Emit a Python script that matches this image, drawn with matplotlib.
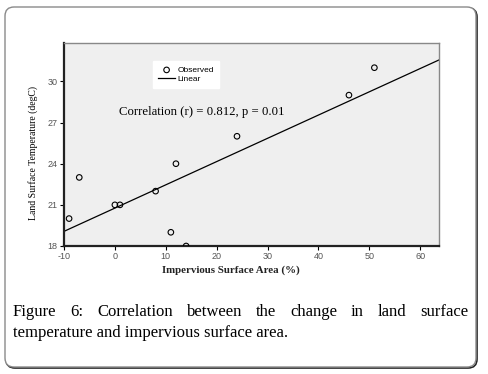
import numpy as np
import matplotlib
matplotlib.use('Agg')
from matplotlib import pyplot as plt
from matplotlib.patches import FancyBboxPatch
from matplotlib.transforms import IdentityTransform

plt.rcParams['axes.unicode_minus'] = False

# data
isa = [-9, -7, 0, 1, 8, 11, 12, 14, 24, 46, 51]
lst = [20, 23, 21, 21, 22, 19, 24, 18, 26, 29, 31]
xticks = [-10, 0, 10, 20, 30, 40, 50, 60]
yticks = [18, 21, 24, 27, 30]
note = "Correlation (r) = 0.812, p = 0.01"
caption1 = "Figure 6: Correlation between the change in land surface"
caption2 = "temperature and impervious surface area."

W, H = 488, 374
fig = plt.figure(figsize=(W / 100, H / 100), dpi=100)
fig.patch.set_facecolor('white')

# outer rounded frame (pixel coords)
shadow = FancyBboxPatch((6, 6), 471, 360, boxstyle="round,pad=0,rounding_size=9",
                        transform=IdentityTransform(), fc='none', ec='#222222',
                        lw=1.2, zorder=-3)
frame = FancyBboxPatch((5, 7), 471, 360, boxstyle="round,pad=0,rounding_size=9",
                       transform=IdentityTransform(), fc='white', ec='#8a8a8a',
                       lw=1.0, zorder=-2)
fig.patches.extend([shadow, frame])

ax = fig.add_axes([64 / W, 1 - 246 / H, 375 / W, 203 / H])
ax.set_facecolor('#efefef')
ax.set_xlim(-10, 63.7)
ax.set_ylim(18, 32.8)

# linear fit
k, b = np.polyfit(isa, lst, 1)
lx = np.array(ax.get_xlim())
ax.plot(lx, k * lx + b, color='black', lw=0.9, label='Linear', zorder=2)
ax.scatter(isa, lst, s=16, facecolors='none', edgecolors='black', linewidths=0.8,
           label='Observed', zorder=3)

for s in ['left', 'bottom']:
    ax.spines[s].set_linewidth(1.6)
    ax.spines[s].set_color('#222222')
for s in ['top', 'right']:
    ax.spines[s].set_linewidth(1.0)
    ax.spines[s].set_color('#888888')

ax.set_xticks(xticks)
ax.set_yticks(yticks)
ax.tick_params(length=3, width=0.8, labelsize=6.5, labelcolor='#555555', pad=1.5,
               direction='out')
for t in ax.get_xticklabels() + ax.get_yticklabels():
    t.set_family('Liberation Sans')

ax.text(0.8, 27.77, note, family='Liberation Serif', fontsize=9.2, va='center',
        ha='left')

handles, labels = ax.get_legend_handles_labels()
leg = ax.legend(handles[::-1], labels[::-1], loc='upper left',
                bbox_to_anchor=(0.238, 0.91), frameon=True, fancybox=False,
                prop={'family': 'Liberation Sans', 'size': 6},
                handlelength=2.0, handletextpad=0.3, labelspacing=0.1,
                borderpad=0.6, borderaxespad=0)
leg.get_frame().set_facecolor('white')
leg.get_frame().set_edgecolor('white')
leg.get_frame().set_alpha(1)

fig.text(33 / W, 1 - 153 / H, "Land Surface Temperature (degC)", rotation=90,
         family='Liberation Serif', fontsize=7.0, ha='center', va='center')
fig.text(231 / W, 1 - 270 / H, "Impervious Surface Area (%)",
         family='Liberation Serif', fontsize=7.8, fontweight='bold',
         ha='center', va='center', color='#222222')

# justified first caption line
renderer = fig.canvas.get_renderer()
words = caption1.split()
objs = [fig.text(0, 0, w, family='Liberation Serif', fontsize=12,
                 ha='left', va='baseline') for w in words]
widths = [o.get_window_extent(renderer).width for o in objs]
x0, x1 = 13, 468
gap = (x1 - x0 - sum(widths)) / (len(words) - 1)
x = x0
for o, w in zip(objs, widths):
    o.set_position((x / W, 1 - 316 / H))
    x += w + gap
fig.text(13 / W, 1 - 337 / H, caption2, family='Liberation Serif', fontsize=12,
         ha='left', va='baseline')

fig.savefig('out.png', dpi=100)
